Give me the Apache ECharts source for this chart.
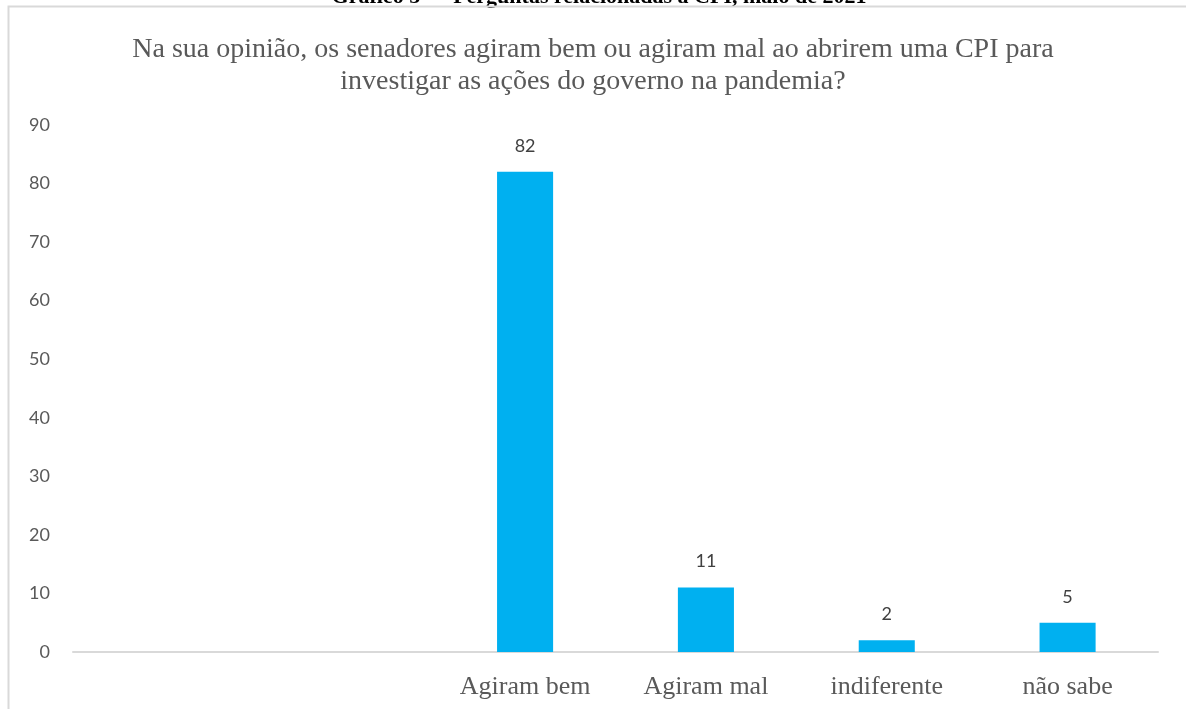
<!DOCTYPE html>
<html>
<head>
<meta charset="utf-8">
<script src="https://cdn.jsdelivr.net/npm/echarts@6/dist/echarts.min.js"></script>
<style>
  html, body { margin: 0; padding: 0; background: #fff; }
  #chart { width: 1186px; height: 709px; }
</style>
</head>
<body>
<div id="chart"></div>
<script>
// Survey answers (percent); the first two slots are empty categories
const categories = ['', '', 'Agiram bem', 'Agiram mal', 'indiferente', 'não sabe'];
const values = [null, null, 82, 11, 2, 5];
const yTicks = { min: 0, max: 90, interval: 10 };

const chartTitle = 'Na sua opinião, os senadores agiram bem ou agiram mal ao abrirem uma CPI para\ninvestigar as ações do governo na pandemia?';
const caption = 'Gráfico 5 — Perguntas relacionadas à CPI, maio de 2021';

const chart = echarts.init(document.getElementById('chart'), null, { renderer: 'canvas' });

chart.setOption({
  animation: false,
  backgroundColor: '#ffffff',
  title: {
    text: chartTitle,
    left: 'center',
    top: 34,
    padding: 0,
    textStyle: {
      fontFamily: 'Liberation Serif',
      fontSize: 28,
      fontWeight: 'normal',
      color: '#595959',
      lineHeight: 32
    }
  },
  graphic: [
    {
      type: 'text',
      x: 599,
      y: -3,
      style: {
        text: caption,
        align: 'center',
        verticalAlign: 'middle',
        fontFamily: 'Liberation Serif',
        fontSize: 22,
        fontWeight: 'bold',
        fill: '#000000'
      }
    },
    {
      type: 'polyline',
      shape: { points: [[8.5, 709], [8.5, 6.5], [1186, 6.5]] },
      style: { stroke: '#d9d9d9', lineWidth: 2, fill: null }
    }
  ],
  grid: {
    left: 73,
    right: 28,
    top: 125,
    bottom: 57,
    containLabel: false
  },
  xAxis: {
    type: 'category',
    data: categories,
    axisTick: { show: false },
    axisLine: { show: true, lineStyle: { color: '#d9d9d9', width: 2 } },
    axisLabel: {
      interval: 0,
      margin: 22,
      fontFamily: 'Liberation Serif',
      fontSize: 26,
      color: '#595959'
    },
    splitLine: { show: false }
  },
  yAxis: {
    type: 'value',
    min: yTicks.min,
    max: yTicks.max,
    interval: yTicks.interval,
    axisLine: { show: false },
    axisTick: { show: false },
    splitLine: { show: false },
    axisLabel: {
      margin: 23,
      fontFamily: 'Lato',
      fontSize: 18,
      color: '#595959'
    }
  },
  series: [
    {
      type: 'bar',
      data: values,
      barWidth: '31%',
      itemStyle: { color: '#00b0f0' },
      label: {
        show: true,
        position: 'top',
        distance: 17,
        fontFamily: 'Lato',
        fontSize: 18,
        color: '#404040'
      }
    }
  ]
});
</script>
</body>
</html>
